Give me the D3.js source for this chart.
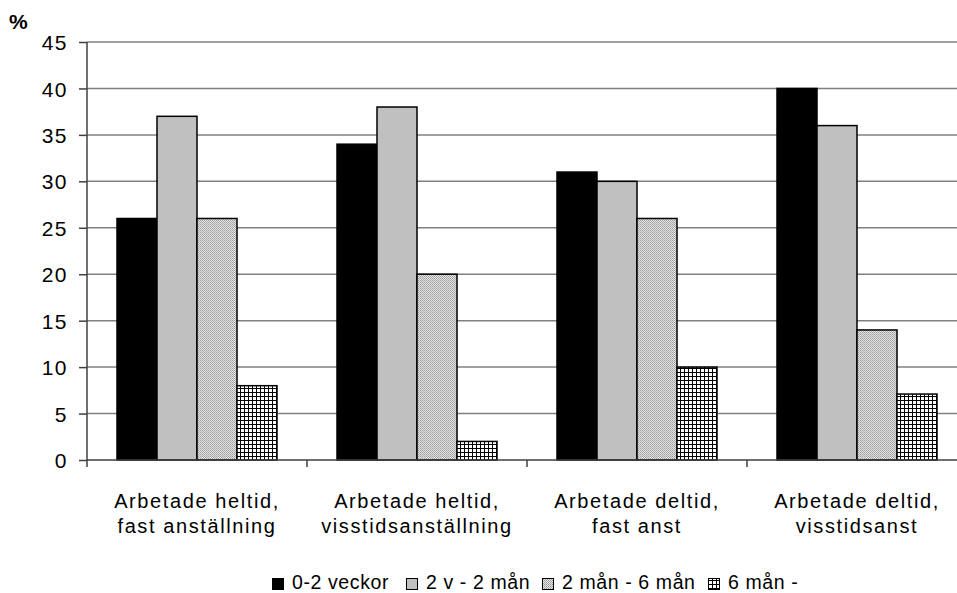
<!DOCTYPE html>
<html><head><meta charset="utf-8">
<script src="https://cdn.jsdelivr.net/npm/d3@7"></script>
<style>body{margin:0;background:#fff}svg{display:block}text{font-family:"Liberation Sans",Arial,sans-serif;fill:#000}</style>
</head><body>
<svg id="c" width="957" height="593"></svg>
<script>
const categories = [["Arbetade heltid,","fast anställning"],["Arbetade heltid,","visstidsanställning"],["Arbetade deltid,","fast anst"],["Arbetade deltid,","visstidsanst"]];
const seriesNames = ["0-2 veckor","2 v - 2 mån","2 mån - 6 mån","6 mån -"];
const s1 = [26,34,31,40];
const s2 = [37,38,30,36];
const s3 = [26,20,26,14];
const s4 = [8,2,10,7.1];
const yTicks = [0,5,10,15,20,25,30,35,40,45];
const series = [s1,s2,s3,s4];

(function(){
const svg = d3.select("#c");
const defs = svg.append("defs");
const p1 = defs.append("pattern").attr("id","dots").attr("patternUnits","userSpaceOnUse").attr("width",2).attr("height",2);
p1.append("rect").attr("width",2).attr("height",2).attr("fill","#e4e4e4");
p1.append("rect").attr("width",1).attr("height",1).attr("fill","#9a9a9a");
p1.append("rect").attr("x",1).attr("y",1).attr("width",1).attr("height",1).attr("fill","#b0b0b0");
const p2 = defs.append("pattern").attr("id","grid").attr("patternUnits","userSpaceOnUse").attr("width",4).attr("height",4);
p2.append("rect").attr("width",4).attr("height",4).attr("fill","#fff");
p2.append("rect").attr("width",4).attr("height",1).attr("fill","#000");
p2.append("rect").attr("width",1).attr("height",4).attr("fill","#000");
const fills = ["#000","#c0c0c0","url(#dots)","url(#grid)"];

const mLeft = 87, mRight = 967, mTop = 42, mBottom = 460;
const y = d3.scaleLinear().domain([0,45]).range([mBottom,mTop]);
const x0 = d3.scaleBand().domain(d3.range(categories.length)).range([mLeft,mRight]).paddingInner(0).paddingOuter(0);
const x1 = d3.scaleBand().domain(d3.range(series.length)).range([30, x0.bandwidth()-30]);

svg.append("g").selectAll("line").data(yTicks.filter(d=>d>0)).join("line")
  .attr("x1",mLeft).attr("x2",mRight).attr("y1",d=>y(d)).attr("y2",d=>y(d))
  .attr("stroke","#808080").attr("stroke-width",1.5);

const g = svg.append("g");
series.forEach((s,si)=>{
  g.selectAll(null).data(s).join("rect")
    .attr("x",(d,i)=>x0(i)+x1(si))
    .attr("y",d=>y(d))
    .attr("width",x1.bandwidth())
    .attr("height",d=>mBottom-y(d))
    .attr("fill",fills[si])
    .attr("stroke","#000").attr("stroke-width",1.5);
});

const ya = svg.append("g").attr("transform",`translate(${mLeft},0)`)
  .call(d3.axisLeft(y).tickValues(yTicks).tickSize(8).tickPadding(11));
ya.select(".domain").remove();
ya.selectAll(".tick line").attr("stroke","#404040").attr("stroke-width",1.5);
ya.selectAll(".tick text").style("font-size","21px").style("letter-spacing","1.5px").attr("dy","0.36em");
svg.append("line").attr("x1",mLeft).attr("x2",mLeft).attr("y1",mTop).attr("y2",mBottom+7).attr("stroke","#404040").attr("stroke-width",1.5);

svg.append("line").attr("x1",mLeft).attr("x2",mRight).attr("y1",mBottom).attr("y2",mBottom).attr("stroke","#404040").attr("stroke-width",1.5);
svg.append("g").selectAll("line").data(d3.range(1,categories.length)).join("line")
  .attr("x1",d=>x0(d)).attr("x2",d=>x0(d)).attr("y1",mBottom).attr("y2",mBottom+7)
  .attr("stroke","#404040").attr("stroke-width",1.5);

categories.forEach((c,i)=>{
  const t = svg.append("text").attr("text-anchor","middle").style("font-size","20px").style("letter-spacing","1.6px");
  c.forEach((line,li)=>t.append("tspan").attr("x",x0(i)+x0.bandwidth()/2).attr("y",508+li*25).text(line));
});

svg.append("text").attr("x",9).attr("y",29).style("font-size","21px").style("font-weight","bold").text("%");

const legX = [272,406,542,708];
seriesNames.forEach((n,i)=>{
  svg.append("rect").attr("x",legX[i]+0.5).attr("y",578.5).attr("width",11).attr("height",11)
    .attr("fill",fills[i]).attr("stroke","#000").attr("stroke-width",1);
  svg.append("text").attr("x",legX[i]+20).attr("y",589).style("font-size","19.5px").style("letter-spacing","0.6px").text(n);
});
})();
</script>
</body></html>
